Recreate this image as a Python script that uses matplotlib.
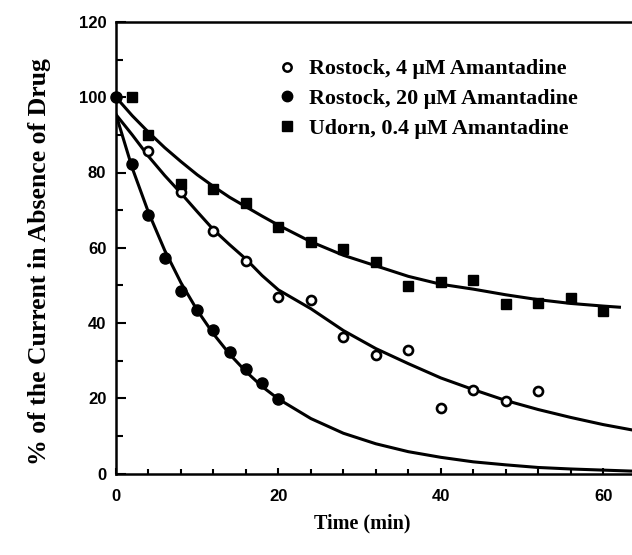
import numpy as np
import matplotlib.pyplot as plt
from matplotlib.lines import Line2D

# --- veriler ---
# Rostock, 4 uM (acik daire)
t_r4 = [4, 8, 12, 16, 20, 24, 28, 32, 36, 40, 44, 48, 52]
y_r4 = [85.6, 74.9, 64.4, 56.6, 46.8, 46.2, 36.3, 31.4, 32.8, 17.4, 22.3, 19.4, 21.9]

# Rostock, 20 uM (dolu daire)
t_r20 = [0, 2, 4, 6, 8, 10, 12, 14, 16, 18, 20]
y_r20 = [100, 82.3, 68.7, 57.3, 48.6, 43.4, 38.2, 32.3, 27.7, 24.1, 19.8]

# Udorn, 0.4 uM (kare)
t_ud = [2, 4, 8, 12, 16, 20, 24, 28, 32, 36, 40, 44, 48, 52, 56, 60]
y_ud = [100, 90, 77, 75.5, 72, 65.4, 61.4, 59.6, 56.1, 49.8, 50.9, 51.5, 45, 45.2, 46.6, 43.1]

# fit egrileri (grafikten okunan noktalar)
t_fit_fast = [0, 2, 4, 6, 8, 10, 12, 14, 16, 18, 20, 24, 28, 32, 36, 40, 44, 48, 52, 56, 60, 64]
y_fit_fast = [95.4, 81.2, 69.4, 59.3, 50.7, 43.4, 37.1, 31.7, 27.1, 23.1, 19.8, 14.6,
              10.7, 7.9, 5.8, 4.3, 3.1, 2.3, 1.6, 1.2, 0.9, 0.6]

t_fit_mid = [0, 2, 4, 6, 8, 10, 12, 14, 16, 18, 20, 24, 28, 32, 36, 40, 44, 48, 52, 56, 60, 64]
y_fit_mid = [95.4, 90.0, 84.3, 79.2, 74.5, 69.6, 64.8, 60.8, 57.0, 52.6, 48.8, 43.8,
             38.0, 33.2, 29.2, 25.4, 22.3, 19.4, 17.0, 14.9, 13.0, 11.4]

t_fit_ud = [0, 2, 4, 6, 8, 10, 12, 14, 16, 18, 20, 24, 28, 32, 36, 40, 44, 48, 52, 56, 60, 62]
y_fit_ud = [100, 95.1, 90.7, 86.6, 82.9, 79.4, 76.3, 73.4, 70.9, 68.4, 66.0, 61.6,
            58.0, 55.2, 52.4, 50.3, 49.0, 47.5, 46.2, 45.2, 44.5, 44.2]

etiketler = ['Rostock, 4 μM Amantadine', 'Rostock, 20 μM Amantadine', 'Udorn, 0.4 μM Amantadine']

serif = 'Liberation Serif'
sans = 'Liberation Sans'

fig = plt.figure(figsize=(6.32, 5.55), dpi=100)
ax = fig.add_axes([116/632, 1 - 473.5/555, 1 - 116/632, (473.5 - 22)/555])

lw_fit = 2.2
ax.plot(t_fit_fast, y_fit_fast, color='black', lw=lw_fit, zorder=2)
ax.plot(t_fit_mid, y_fit_mid, color='black', lw=lw_fit, zorder=2)
ax.plot(t_fit_ud, y_fit_ud, color='black', lw=lw_fit, zorder=2)

ax.plot(t_r4, y_r4, 'o', ms=6.5, mfc='white', mec='black', mew=1.9, zorder=3, clip_on=False)
ax.plot(t_r20, y_r20, 'o', ms=8, color='black', zorder=3, clip_on=False)
ax.plot(t_ud, y_ud, 's', ms=7.5, color='black', zorder=3, clip_on=False)

ax.set_xlim(0, (632 - 116)/8.12)
ax.set_ylim(0, 120)

ax.spines['right'].set_visible(False)
for s in ['left', 'bottom', 'top']:
    ax.spines[s].set_linewidth(1.8)

ax.set_xticks([0, 20, 40, 60])
ax.set_xticks(np.arange(0, 64, 4), minor=True)
ax.set_yticks([0, 20, 40, 60, 80, 100, 120])
ax.set_yticks(np.arange(0, 121, 10), minor=True)
ax.tick_params(axis='both', which='both', direction='in', width=1.5)
ax.tick_params(axis='y', which='major', length=7, pad=7)
ax.tick_params(axis='y', which='minor', length=5)
ax.tick_params(axis='x', which='major', length=4.5, pad=11)
ax.tick_params(axis='x', which='minor', length=3.5)
for lab in ax.get_xticklabels() + ax.get_yticklabels():
    lab.set_fontfamily(sans)
    lab.set_fontweight('bold')
    lab.set_fontsize(12)

handles = [
    Line2D([], [], ls='none', marker='o', ms=6, mfc='white', mec='black', mew=1.8),
    Line2D([], [], ls='none', marker='o', ms=7.5, color='black'),
    Line2D([], [], ls='none', marker='s', ms=7, color='black'),
]
fig.legend(handles, etiketler, loc='upper left', bbox_to_anchor=(277/632, 1 - 59/555),
           frameon=False, handlelength=0.9, handletextpad=0.55, labelspacing=0.42,
           borderpad=0, borderaxespad=0,
           prop={'family': serif, 'weight': 'bold', 'size': 15.8})

fig.text(40/632, 1 - 262/555, '% of the Current in Absence of Drug', rotation=90,
         ha='center', va='center', family=serif, weight='bold', size=18.5)
fig.text(362/632, 1 - 523/555, 'Time (min)', ha='center', va='center',
         family=serif, weight='bold', size=14.5)

fig.savefig('out.png', dpi=100)
